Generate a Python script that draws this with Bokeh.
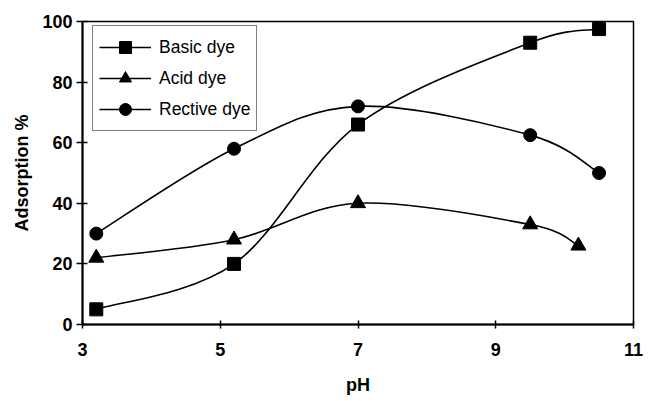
from bokeh.plotting import figure
from bokeh.models import Range1d, Legend, LegendItem, ColumnDataSource, FixedTicker
from bokeh.embed import file_html
from bokeh.resources import INLINE

# Adsorption (%) of three dye types versus solution pH
basic_ph = [3.2, 5.2, 7.0, 9.5, 10.5]
basic_ads = [5, 20, 66, 93, 97.5]

acid_ph = [3.2, 5.2, 7.0, 9.5, 10.2]
acid_ads = [22, 28, 40, 33, 26]

reactive_ph = [3.2, 5.2, 7.0, 9.5, 10.5]
reactive_ads = [30, 58, 72, 62.5, 50]

x_ticks = [3, 5, 7, 9, 11]
y_ticks = [0, 20, 40, 60, 80, 100]

FONT = "Liberation Sans"


def smooth_segments(xs, ys, tension=6.0):
    """Cubic Bezier control points for a smoothed line through the points
    (Catmull-Rom style, end points reuse themselves as neighbours)."""
    n = len(xs)
    seg = dict(x0=[], y0=[], x1=[], y1=[], cx0=[], cy0=[], cx1=[], cy1=[])
    for i in range(n - 1):
        xp, yp = (xs[i - 1], ys[i - 1]) if i > 0 else (xs[i], ys[i])
        xn2, yn2 = (xs[i + 2], ys[i + 2]) if i + 2 < n else (xs[i + 1], ys[i + 1])
        seg["x0"].append(xs[i]); seg["y0"].append(ys[i])
        seg["x1"].append(xs[i + 1]); seg["y1"].append(ys[i + 1])
        seg["cx0"].append(xs[i] + (xs[i + 1] - xp) / tension)
        seg["cy0"].append(ys[i] + (ys[i + 1] - yp) / tension)
        seg["cx1"].append(xs[i + 1] - (xn2 - xs[i]) / tension)
        seg["cy1"].append(ys[i + 1] - (yn2 - ys[i]) / tension)
    return ColumnDataSource(seg)


p = figure(width=648, height=401, output_backend="svg", toolbar_location=None,
           x_range=Range1d(3, 11), y_range=Range1d(0, 100),
           min_border_left=82, min_border_right=15, min_border_top=21,
           min_border_bottom=77)
p.background_fill_color = "white"
p.border_fill_color = "white"
p.outline_line_color = "black"
p.outline_line_width = 1.5
p.grid.visible = False

# axes
p.xaxis.ticker = FixedTicker(ticks=x_ticks)
p.yaxis.ticker = FixedTicker(ticks=y_ticks)
for ax in (p.xaxis[0], p.yaxis[0]):
    ax.axis_line_width = 2
    ax.axis_line_color = "black"
    ax.major_tick_line_width = 1.5
    ax.major_tick_line_color = "black"
    ax.minor_tick_line_color = None
    ax.major_label_text_font = FONT
    ax.major_label_text_font_style = "bold"
    ax.major_label_text_font_size = "18px"
    ax.major_label_text_color = "black"
    ax.axis_label_text_font = FONT
    ax.axis_label_text_font_style = "bold"
    ax.axis_label_text_font_size = "18px"
    ax.axis_label_text_color = "black"

p.xaxis.major_tick_out = 4
p.xaxis.major_tick_in = 4
p.xaxis.major_label_standoff = 14
p.xaxis.axis_label = "pH"
p.xaxis.axis_label_standoff = 16

p.yaxis.major_tick_out = 6
p.yaxis.major_tick_in = 5
p.yaxis.major_label_standoff = 4
p.yaxis.axis_label = "Adsorption %"
p.yaxis.axis_label_standoff = 7

series = [
    ("Basic dye", basic_ph, basic_ads, "square", 13),
    ("Acid dye", acid_ph, acid_ads, "triangle", 15),
    ("Rective dye", reactive_ph, reactive_ads, "circle", 13),
]

items = []
for label, xs, ys, marker, size in series:
    curve = p.bezier(x0="x0", y0="y0", x1="x1", y1="y1", cx0="cx0", cy0="cy0",
                     cx1="cx1", cy1="cy1", source=smooth_segments(xs, ys),
                     line_color="black", line_width=1.6)
    pts = p.scatter(xs, ys, marker=marker, size=size, fill_color="black",
                    line_color="black")
    items.append(LegendItem(label=label, renderers=[curve, pts]))

# legend box placed from the bottom-left corner of the frame
legend = Legend(items=items, location=(10, 193), margin=0)
legend.label_text_font = FONT
legend.label_text_font_size = "17.5px"
legend.label_text_color = "black"
legend.glyph_width = 52
legend.glyph_height = 30
legend.label_height = 30
legend.label_standoff = 8
legend.spacing = 1
legend.padding = 6
legend.border_line_color = "black"
legend.border_line_width = 1.5
legend.background_fill_color = "white"
legend.background_fill_alpha = 1
p.add_layout(legend)

open("out.html", "w").write(file_html(p, INLINE))
